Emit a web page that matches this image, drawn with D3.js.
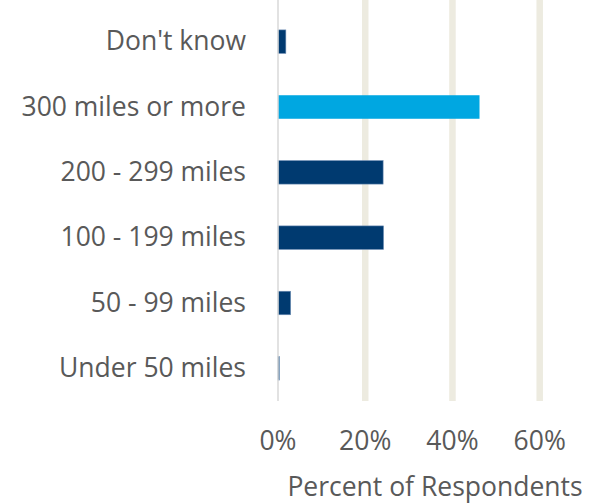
<!DOCTYPE html>
<html>
<head>
<meta charset="utf-8">
<script src="https://cdn.jsdelivr.net/npm/d3@7"></script>
<style>
  body { margin: 0; background: #fff; }
  text { font-family: "Open Sans", sans-serif; fill: #595959; }
</style>
</head>
<body>
<div id="chart"></div>
<script>
// data
var categories = ["Don't know", "300 miles or more", "200 - 299 miles", "100 - 199 miles", "50 - 99 miles", "Under 50 miles"];
var values = [1.8, 46.2, 24.1, 24.2, 2.9, 0.3];
var highlight = ["300 miles or more"];
var xTicks = [0, 20, 40, 60];
var xTitle = "Percent of Respondents";

var width = 594, height = 504;
var fontSize = "26.5px";

var svg = d3.select("#chart").append("svg")
    .attr("width", width)
    .attr("height", height);

// scales
var xScale = d3.scaleLinear()
    .domain([0, 60])
    .range([278, 539.7]);

var yScale = d3.scaleBand()
    .domain(categories)
    .range([9, 401])
    .paddingInner(0.64)
    .paddingOuter(0.32);

// gridlines
svg.append("g")
    .selectAll("line")
    .data(xTicks.filter(d => d > 0))
    .join("line")
    .attr("x1", d => xScale(d))
    .attr("x2", d => xScale(d))
    .attr("y1", 0)
    .attr("y2", 401)
    .attr("stroke", "#EDEBE0")
    .attr("stroke-width", 6.5);

// bars
svg.append("g")
    .selectAll("rect")
    .data(categories)
    .join("rect")
    .attr("x", xScale(0))
    .attr("y", d => yScale(d))
    .attr("height", yScale.bandwidth())
    .attr("width", (d, i) => xScale(values[i]) - xScale(0))
    .attr("fill", d => highlight.includes(d) ? "#00A7E1" : "#003A70")
    .attr("stroke", d => highlight.includes(d) ? "none" : "#6F8FB5")
    .attr("stroke-width", 0.6);

// zero axis line
svg.append("line")
    .attr("x1", xScale(0))
    .attr("x2", xScale(0))
    .attr("y1", 0)
    .attr("y2", 401)
    .attr("stroke", "#D9D9D9")
    .attr("stroke-width", 1.5);

// category labels
svg.append("g")
    .selectAll("text")
    .data(categories)
    .join("text")
    .attr("x", 246)
    .attr("y", d => yScale(d) + yScale.bandwidth() / 2 + 8.5)
    .attr("text-anchor", "end")
    .style("font-size", fontSize)
    .text(d => d);

// tick labels
svg.append("g")
    .selectAll("text")
    .data(xTicks)
    .join("text")
    .attr("x", d => xScale(d))
    .attr("y", 450)
    .attr("text-anchor", "middle")
    .style("font-size", fontSize)
    .text(d => d + "%");

// axis title
svg.append("text")
    .attr("x", 435)
    .attr("y", 496)
    .attr("text-anchor", "middle")
    .style("font-size", fontSize)
    .text(xTitle);
</script>
</body>
</html>
